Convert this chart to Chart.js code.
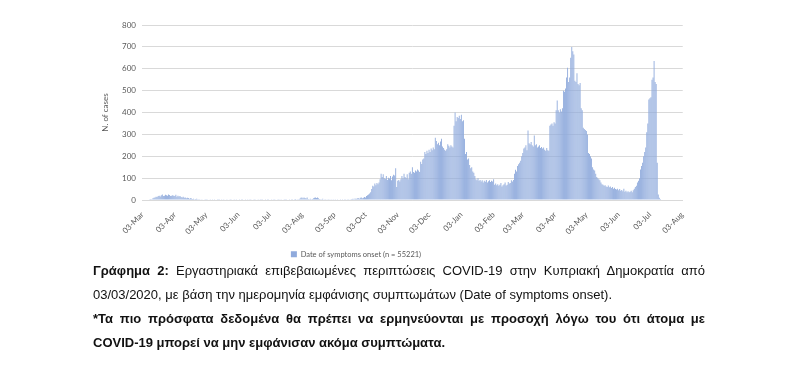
<!DOCTYPE html>
<html>
<head>
<meta charset="utf-8">
<script src="https://cdn.jsdelivr.net/npm/chart.js@4.4.1/dist/chart.umd.min.js"></script>
<style>
  html, body { margin: 0; padding: 0; background: #fff; }
  body { width: 799px; height: 377px; position: relative; overflow: hidden; }
  #wrap { position: absolute; left: 21px; top: 0; width: 670px; height: 268px; }
  #caption {
    position: absolute; left: 93px; top: 259px; width: 612px;
    font-family: "Liberation Sans", Arial, sans-serif; font-size: 13px;
    line-height: 24px; color: #111;
  }
  #caption div { white-space: nowrap; }
  #caption .full { text-align: justify; text-align-last: justify; white-space: normal; }
  #caption .bold { font-weight: bold; }
</style>
</head>
<body>
<div id="wrap"><canvas id="onsetChart"></canvas></div>
<div id="caption">
  <div class="full"><b>Γράφημα 2:</b> Εργαστηριακά επιβεβαιωμένες περιπτώσεις COVID-19 στην Κυπριακή Δημοκρατία από</div>
  <div>03/03/2020, με βάση την ημερομηνία εμφάνισης συμπτωμάτων (Date of symptoms onset).</div>
  <div class="full bold">*Τα πιο πρόσφατα δεδομένα θα πρέπει να ερμηνεύονται με προσοχή λόγω του ότι άτομα με</div>
  <div class="bold">COVID-19 μπορεί να μην εμφάνισαν ακόμα συμπτώματα.</div>
</div>
<script>
// daily cases by date of symptoms onset (03-Mar-2020 .. 03-Aug-2021)
var mar20 = [0,0,0,0,0,0,2,3,5,4,8,10,12,15,14,18,20,16,22,25,18,20,24,22,20,25,23,18,20];
var apr20 = [22,20,18,24,15,20,16,18,14,12,15,10,12,8,10,9,6,8,7,5,6,4,5,6,3,4,3,2,3,2];
var may20 = [2,1,3,1,2,0,1,2,1,0,1,2,0,1,3,1,0,1,2,1,0,0,1,2,0,1,1,0,2,1,0];
var jun20 = [1,0,2,1,0,3,1,0,2,1,0,1,2,4,1,0,2,3,1,0,2,1,0,1,3,1,2,0,1,2];
var jul20 = [1,3,2,0,1,2,4,1,0,2,1,3,2,1,0,2,4,3,1,2,0,3,2,4,1,2,3,5,2,3,4];
var aug20 = [6,10,12,8,11,9,7,12,5,4,6,3,5,8,10,12,9,11,8,5,4,3,6,2,3,4,2,1,3,2,1];
var sep20 = [2,1,0,1,2,1,0,2,1,0,1,2,3,1,2,3,4,2,3,5,6,4,7,5,8,9,6,10,12,8];
var oct20 = [10,14,12,18,22,25,30,35,50,65,62,75,68,78,72,80,95,120,105,118,100,96,110,92,102,98,110,90,108,115,112];
var nov20 = [145,60,88,92,85,95,110,98,120,105,100,118,95,125,130,120,150,128,125,135,130,140,135,128,175,165,185,190,220,210];
var dec20 = [225,215,230,220,235,228,240,232,285,270,255,262,250,268,280,245,238,230,225,232,255,248,240,250,245,240,340,400,360,380,375];
var jan21 = [385,370,390,360,365,280,210,220,185,190,160,145,150,130,125,110,95,90,100,88,92,85,90,80,88,84,92,80,86,90,82];
var feb21 = [88,85,95,70,75,68,72,65,70,78,62,68,72,80,66,70,82,75,78,90,85,92,120,138,130,155,163,170];
var mar21 = [180,200,215,235,240,250,228,318,260,255,265,250,245,295,250,255,240,245,250,238,242,235,240,230,225,238,228,225,340,345,350];
var apr21 = [340,355,350,410,455,410,400,415,405,420,500,495,510,560,605,540,560,650,700,680,665,545,540,580,530,525,535,420,410,330];
var may21 = [325,320,315,300,215,210,200,190,150,140,135,120,105,100,95,90,80,72,70,65,68,62,60,66,58,62,55,60,52,56,50];
var jun21 = [48,52,45,50,42,46,40,52,38,42,36,40,35,38,42,36,45,52,60,65,80,88,100,140,155,170,200,220,240,310];
var jul21 = [350,460,465,470,550,560,635,540,530,170,25,10,5,2,0,0,0,0,0,0,0,0,0,0,0,0,0,0,0,0,0];
var aug21 = [0,0,0];

var onsetCases = [].concat(mar20, apr20, may20, jun20, jul20, aug20, sep20, oct20,
    nov20, dec20, jan21, feb21, mar21, apr21, may21, jun21, jul21, aug21);

var monthNames = ['Jan','Feb','Mar','Apr','May','Jun','Jul','Aug','Sep','Oct','Nov','Dec'];
var startDate = new Date(2020, 2, 3);
var dayLabels = [];
for (var i = 0; i < onsetCases.length; i++) {
    var d = new Date(startDate.getFullYear(), startDate.getMonth(), startDate.getDate() + i);
    var dd = d.getDate() < 10 ? '0' + d.getDate() : '' + d.getDate();
    dayLabels.push(dd + '-' + monthNames[d.getMonth()]);
}
var legendLabel = 'Date of symptoms onset (n = 55221)';
var yAxisTitle = 'N. of cases';

var ctx = document.getElementById('onsetChart').getContext('2d');
var onsetChart = new Chart(ctx, {
    type: 'bar',
    data: {
        labels: dayLabels,
        datasets: [{
            label: legendLabel,
            data: onsetCases,
            backgroundColor: '#8FAADC',
            borderWidth: 0,
            barPercentage: 0.85,
            categoryPercentage: 1.0
        }]
    },
    options: {
        responsive: true,
        maintainAspectRatio: false,
        animation: false,
        layout: { padding: { top: 25, right: 0, bottom: 0, left: 0 } },
        plugins: {
            legend: {
                position: 'bottom',
                labels: {
                    boxWidth: 6, boxHeight: 6, padding: 12,
                    color: '#595959',
                    font: { family: 'Lato', size: 7.5 }
                }
            },
            tooltip: { enabled: false }
        },
        scales: {
            x: {
                grid: { display: false },
                border: { color: '#D9D9D9' },
                ticks: {
                    autoSkip: false,
                    minRotation: 45, maxRotation: 45,
                    color: '#595959',
                    font: { family: 'Lato', size: 8 },
                    padding: 2,
                    callback: function (value) {
                        var lab = this.getLabelForValue(value);
                        return lab.indexOf('03-') === 0 ? lab : '';
                    }
                },
                afterFit: function (scale) { scale.height = 38.5; }
            },
            y: {
                min: 0, max: 800,
                grid: { color: '#D9D9D9', drawTicks: false },
                border: { display: false },
                ticks: {
                    stepSize: 100,
                    padding: 6,
                    color: '#595959',
                    font: { family: 'Lato', size: 8 }
                },
                title: {
                    display: true,
                    text: yAxisTitle,
                    color: '#595959',
                    font: { family: 'Lato', size: 8 },
                    padding: { top: 80, bottom: 0 }
                },
                afterFit: function (scale) { scale.width = 121; }
            }
        }
    }
});
</script>
</body>
</html>
